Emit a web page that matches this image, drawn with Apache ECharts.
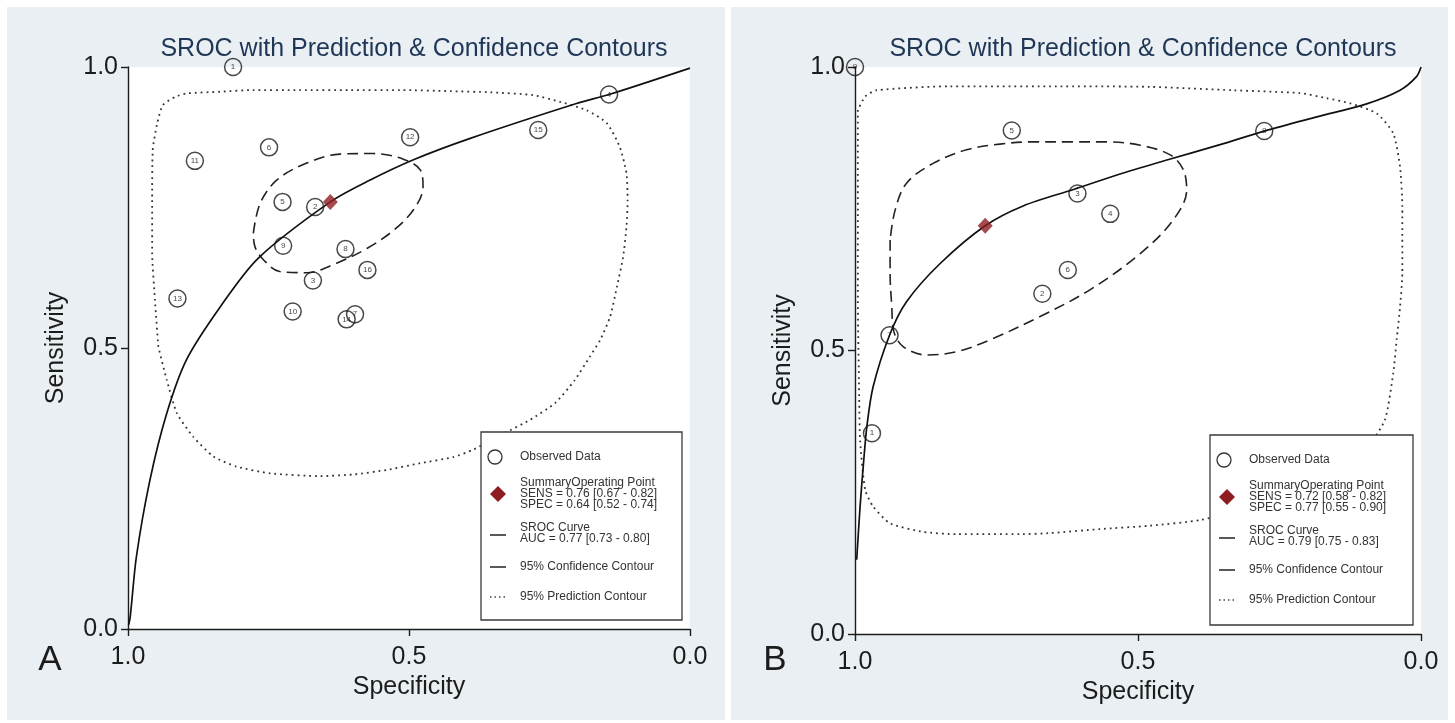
<!DOCTYPE html>
<html><head><meta charset="utf-8">
<script src="https://cdn.jsdelivr.net/npm/echarts@6.0.0/dist/echarts.min.js"></script>
<style>html,body{margin:0;padding:0;background:#fff}#c{width:1455px;height:723px}</style>
</head><body><div id="c"></div>
<script>
// ---------- Data ----------
const tickLabels = ['0.0', '0.5', '1.0'];
const titleText = 'SROC with Prediction & Confidence Contours';

// Panel A : observed studies
const obsA_label = ['7','1','2','3','4','5','6','8','9','10','11','12','13','14','15','16'];
const obsA_spec  = [0.596,0.813,0.667,0.671,0.144,0.725,0.749,0.613,0.724,0.707,0.881,0.498,0.912,0.611,0.270,0.574];
const obsA_sens  = [0.560,1.000,0.751,0.620,0.951,0.760,0.857,0.676,0.682,0.565,0.833,0.875,0.588,0.551,0.888,0.639];
const sumA_spec = 0.64, sumA_sens = 0.76;
// Panel A : SROC curve
const srocA_spec = [0.999,0.996,0.985,0.961,0.931,0.896,0.836,0.768,0.640,0.569,0.492,0.391,0.202,0.144,0.000];
const srocA_sens = [0.007,0.022,0.129,0.265,0.384,0.479,0.573,0.660,0.760,0.799,0.835,0.873,0.935,0.951,0.998];
// Panel A : 95% confidence contour
const confA_spec = [0.777,0.765,0.735,0.682,0.623,0.564,0.510,0.480,0.475,0.492,0.528,0.575,0.629,0.682,0.730,0.759,0.774,0.777];
const confA_sens = [0.704,0.757,0.799,0.829,0.845,0.846,0.836,0.817,0.787,0.746,0.709,0.677,0.651,0.634,0.636,0.657,0.680,0.704];
// Panel A : 95% prediction contour
const predA_spec = [0.946,0.952,0.957,0.957,0.956,0.948,0.938,0.916,0.895,0.836,0.778,0.694,0.605,0.516,0.427,0.356,0.279,0.231,0.184,0.148,0.125,0.113,0.111,0.113,0.119,0.130,0.142,0.160,0.178,0.205,0.240,0.285,0.329,0.386,0.421,0.480,0.540,0.599,0.658,0.747,0.807,0.848,0.884,0.913,0.931,0.946];
const predA_sens = [0.502,0.585,0.669,0.763,0.852,0.900,0.932,0.947,0.953,0.956,0.959,0.959,0.959,0.959,0.957,0.955,0.950,0.938,0.923,0.900,0.858,0.811,0.763,0.716,0.662,0.609,0.556,0.514,0.485,0.443,0.402,0.372,0.349,0.319,0.306,0.295,0.283,0.275,0.272,0.277,0.289,0.307,0.342,0.384,0.443,0.502];
const legA_lines = ['SummaryOperating Point', 'SENS = 0.76 [0.67 - 0.82]', 'SPEC = 0.64 [0.52 - 0.74]'];
const legA_auc = 'AUC = 0.77 [0.73 - 0.80]';

// Panel B : observed studies
const obsB_label = ['1','2','3','4','5','6','7','8','9'];
const obsB_spec  = [0.970,0.669,0.607,0.549,0.723,0.624,0.939,0.277,1.000];
const obsB_sens  = [0.354,0.600,0.777,0.741,0.888,0.642,0.527,0.887,1.000];
const sumB_spec = 0.77, sumB_sens = 0.72;
// Panel B : SROC curve
const srocB_spec = [0.997,0.991,0.985,0.979,0.968,0.939,0.909,0.850,0.770,0.703,0.614,0.526,0.449,0.355,0.277,0.184,0.096,0.037,0.008,0.000];
const srocB_sens = [0.131,0.225,0.301,0.366,0.436,0.527,0.586,0.653,0.720,0.755,0.784,0.813,0.836,0.863,0.887,0.912,0.935,0.959,0.983,1.000];
// Panel B : 95% confidence contour
const confB_spec = [0.938,0.938,0.935,0.932,0.915,0.873,0.820,0.761,0.673,0.585,0.496,0.438,0.414,0.420,0.443,0.496,0.555,0.614,0.685,0.744,0.803,0.862,0.909,0.929,0.938];
const confB_sens = [0.695,0.636,0.577,0.536,0.507,0.492,0.498,0.519,0.560,0.607,0.671,0.730,0.783,0.819,0.845,0.862,0.868,0.868,0.868,0.864,0.854,0.830,0.795,0.748,0.695];
// Panel B : 95% prediction contour
const predB_spec = [0.995,0.995,0.995,0.993,0.991,0.982,0.968,0.938,0.879,0.820,0.708,0.655,0.567,0.479,0.390,0.284,0.178,0.099,0.064,0.049,0.043,0.037,0.033,0.033,0.037,0.049,0.078,0.125,0.167,0.214,0.332,0.479,0.655,0.832,0.962,0.982,0.995];
const predB_sens = [0.924,0.765,0.589,0.448,0.342,0.254,0.225,0.195,0.180,0.176,0.176,0.178,0.185,0.191,0.201,0.228,0.272,0.325,0.377,0.460,0.519,0.577,0.636,0.754,0.824,0.883,0.918,0.936,0.945,0.954,0.959,0.965,0.966,0.966,0.959,0.948,0.924];
const legB_lines = ['SummaryOperating Point', 'SENS = 0.72 [0.58 - 0.82]', 'SPEC = 0.77 [0.55 - 0.90]'];
const legB_auc = 'AUC = 0.79 [0.75 - 0.83]';

// ---------- Build chart ----------
const zip = (a, b) => a.map((v, i) => [v, b[i]]);
const FONT = '"Liberation Sans", Arial, sans-serif';
const INK = '#1c1c1c';

function axisX(gi) {
  return {
    gridIndex: gi, type: 'value', min: 0, max: 1, interval: 0.5, inverse: true,
    axisLine: { onZero: false, lineStyle: { color: INK, width: 1.4 } },
    axisTick: { length: 7, lineStyle: { color: INK, width: 1.4 } },
    axisLabel: { formatter: v => tickLabels[Math.round(v * 2)], fontSize: 25, color: INK, margin: 16, fontFamily: FONT },
    splitLine: { show: false },
    name: 'Specificity', nameLocation: 'middle', nameGap: 42,
    nameTextStyle: { fontSize: 25, color: INK, fontFamily: FONT }
  };
}
function axisY(gi) {
  return {
    gridIndex: gi, type: 'value', min: 0, max: 1, interval: 0.5,
    axisLine: { onZero: false, lineStyle: { color: INK, width: 1.4 } },
    axisTick: { length: 7, lineStyle: { color: INK, width: 1.4 } },
    axisLabel: { formatter: v => tickLabels[Math.round(v * 2)], fontSize: 25, color: INK, margin: 10, fontFamily: FONT },
    splitLine: { show: false },
    name: 'Sensitivity', nameLocation: 'middle', nameGap: 59,
    nameTextStyle: { fontSize: 25, color: INK, fontFamily: FONT }
  };
}
function panelSeries(gi, pred, conf, sroc, obsLab, obsSpec, obsSens, sSpec, sSens) {
  return [
    { type: 'line', xAxisIndex: gi, yAxisIndex: gi, data: pred, showSymbol: false, smooth: 0.2, silent: true,
      lineStyle: { color: '#333', width: 1.8, type: [1.8, 4] }, z: 2 },
    { type: 'line', xAxisIndex: gi, yAxisIndex: gi, data: conf, showSymbol: false, smooth: 0.35, silent: true,
      lineStyle: { color: '#222', width: 1.6, type: [11, 6] }, z: 3 },
    { type: 'line', xAxisIndex: gi, yAxisIndex: gi, data: sroc, showSymbol: false, smooth: 0.3, silent: true,
      lineStyle: { color: '#111', width: 1.7 }, z: 4 },
    { type: 'scatter', xAxisIndex: gi, yAxisIndex: gi, symbol: 'circle', symbolSize: 17,
      data: obsSpec.map((v, i) => ({ value: [v, obsSens[i]], name: obsLab[i] })),
      itemStyle: { color: 'rgba(255,255,255,0)', borderColor: '#1a1a1a', borderWidth: 1.5 },
      label: { show: true, position: 'inside', formatter: p => p.name, fontSize: 8, color: '#111', fontFamily: FONT },
      z: 5 },
    { type: 'scatter', xAxisIndex: gi, yAxisIndex: gi, symbol: 'diamond', symbolSize: [15, 16],
      data: [[sSpec, sSens]], itemStyle: { color: '#8e1d22' }, z: 6 }
  ];
}
function legendGroup(x, y, w, h, lines, auc) {
  const tf = '12px ' + FONT;
  const Z = 60;
  const t = (tx, ty, text, lh) => ({ type: 'text', z: Z + 1, x: tx, y: ty,
    style: { text, font: tf, fill: '#333', verticalAlign: 'middle', textVerticalAlign: 'middle', lineHeight: lh || 13 } });
  return {
    type: 'group', x, y, z: Z, children: [
      { type: 'rect', z: Z, shape: { x: 0, y: 0, width: w, height: h }, style: { fill: '#fff', stroke: '#3a3a3a', lineWidth: 1.3 } },
      { type: 'circle', z: Z + 1, shape: { cx: 14, cy: 25, r: 7 }, style: { fill: 'none', stroke: '#333', lineWidth: 1.3 } },
      t(39, 25, 'Observed Data'),
      { type: 'polygon', z: Z + 1, shape: { points: [[17, 54], [25, 62], [17, 70], [9, 62]] }, style: { fill: '#8e1d22' } },
      t(39, 62, lines.join('\n'), 11),
      { type: 'line', z: Z + 1, shape: { x1: 9, y1: 103, x2: 25, y2: 103 }, style: { stroke: '#222', lineWidth: 1.5 } },
      t(39, 101, 'SROC Curve\n' + auc, 11),
      { type: 'line', z: Z + 1, shape: { x1: 9, y1: 135, x2: 25, y2: 135 }, style: { stroke: '#222', lineWidth: 1.5 } },
      t(39, 135, '95% Confidence Contour'),
      { type: 'line', z: Z + 1, shape: { x1: 9, y1: 165, x2: 25, y2: 165 }, style: { stroke: '#444', lineWidth: 1.5, lineDash: [1.5, 3] } },
      t(39, 165, '95% Prediction Contour')
    ]
  };
}

const chart = echarts.init(document.getElementById('c'), null, { renderer: 'canvas' });
chart.setOption({
  backgroundColor: '#ffffff',
  animation: false,
  title: [
    { text: titleText, left: 409, top: 32, textAlign: 'center', textStyle: { fontSize: 25, fontWeight: 'normal', color: '#1f3656', fontFamily: FONT } },
    { text: titleText, left: 1138, top: 32, textAlign: 'center', textStyle: { fontSize: 25, fontWeight: 'normal', color: '#1f3656', fontFamily: FONT } }
  ],
  grid: [
    { left: 128, top: 67, width: 562, height: 562, show: true, backgroundColor: '#ffffff', borderWidth: 0 },
    { left: 855, top: 67, width: 566, height: 567, show: true, backgroundColor: '#ffffff', borderWidth: 0 }
  ],
  xAxis: [axisX(0), axisX(1)],
  yAxis: [axisY(0), axisY(1)],
  graphic: [
    { type: 'rect', z: -10, shape: { x: 7, y: 7, width: 718, height: 713 }, style: { fill: '#e9eff2' } },
    { type: 'rect', z: -10, shape: { x: 731, y: 7, width: 717, height: 713 }, style: { fill: '#e9eff2' } },
    { type: 'text', x: 50, y: 660, z: 50, style: { text: 'A', font: '35px ' + FONT, fill: INK, align: 'center', verticalAlign: 'middle', textAlign: 'center', textVerticalAlign: 'middle' } },
    { type: 'text', x: 775, y: 660, z: 50, style: { text: 'B', font: '35px ' + FONT, fill: INK, align: 'center', verticalAlign: 'middle', textAlign: 'center', textVerticalAlign: 'middle' } },
    legendGroup(481, 432, 201, 188, legA_lines, legA_auc),
    legendGroup(1210, 435, 203, 190, legB_lines, legB_auc)
  ],
  series: [
    ...panelSeries(0, zip(predA_spec, predA_sens), zip(confA_spec, confA_sens), zip(srocA_spec, srocA_sens),
      obsA_label, obsA_spec, obsA_sens, sumA_spec, sumA_sens),
    ...panelSeries(1, zip(predB_spec, predB_sens), zip(confB_spec, confB_sens), zip(srocB_spec, srocB_sens),
      obsB_label, obsB_spec, obsB_sens, sumB_spec, sumB_sens)
  ]
});
</script></body></html>
